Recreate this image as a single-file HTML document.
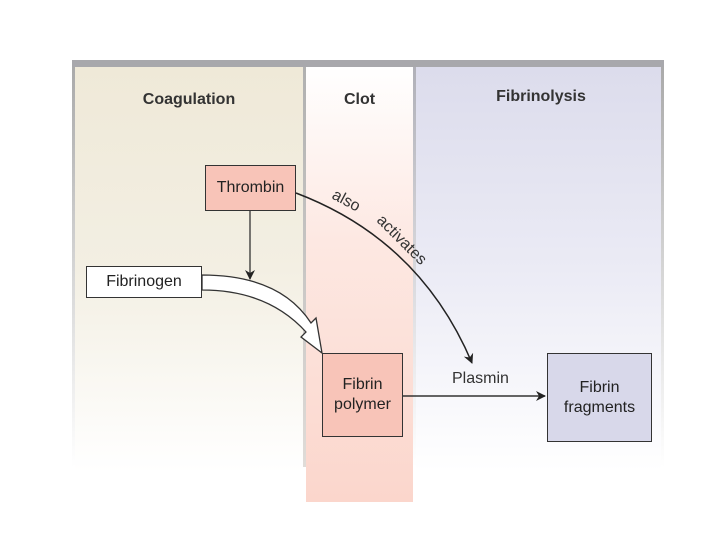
<!DOCTYPE html>
<html><head><style>
body{margin:0;width:720px;height:540px;background:#fff;position:relative;overflow:hidden;font-family:"Liberation Sans",sans-serif}
.a{position:absolute}
.box{position:absolute;border:1.5px solid #333;box-sizing:border-box;display:flex;align-items:center;justify-content:center;text-align:center;font-size:16px;color:#222;line-height:20px}
</style></head><body>
<div class="a" style="left:72px;top:60px;width:592px;height:7px;background:#a8a8ac"></div>
<div class="a" style="left:72px;top:67px;width:3px;height:400px;background:linear-gradient(#aaa,#fff)"></div>
<div class="a" style="left:75px;top:67px;width:228px;height:405px;background:linear-gradient(#efe9d8 0%,#f3efe3 50%,#fff 100%)"></div>
<div class="a" style="left:303px;top:67px;width:3px;height:400px;background:linear-gradient(#b0b0b0,#e0dcd8)"></div>
<div class="a" style="left:306px;top:67px;width:107px;height:435px;background:linear-gradient(#fff 0%,#fde8e2 40%,#fbd6cc 100%)"></div>
<div class="a" style="left:413px;top:67px;width:3px;height:400px;background:linear-gradient(#b0b0b8,#fff)"></div>
<div class="a" style="left:416px;top:67px;width:245px;height:405px;background:linear-gradient(#dcdcec 0%,#ebebf5 50%,#fff 100%)"></div>
<div class="a" style="left:661px;top:67px;width:3px;height:400px;background:linear-gradient(#aaa,#fff)"></div>
<div class="a" style="left:75px;top:91px;width:228px;text-align:center;font-weight:bold;font-size:16px;color:#333">Coagulation</div>
<div class="a" style="left:306px;top:91px;width:107px;text-align:center;font-weight:bold;font-size:16px;color:#333">Clot</div>
<div class="a" style="left:416px;top:88px;width:250px;text-align:center;font-weight:bold;font-size:16px;color:#333">Fibrinolysis</div>
<div class="box" style="left:205px;top:165px;width:91px;height:46px;background:#f8c4b8">Thrombin</div>
<div class="box" style="left:86px;top:266px;width:116px;height:32px;background:#fff">Fibrinogen</div>
<div class="box" style="left:322px;top:353px;width:81px;height:84px;background:#f8c4b8">Fibrin<br>polymer</div>
<div class="box" style="left:547px;top:353px;width:105px;height:89px;background:#d8d8ea">Fibrin<br>fragments</div>
<div class="a" style="left:452px;top:370px;font-size:16px;color:#333">Plasmin</div>
<svg class="a" style="left:0;top:0" width="720" height="540">
<defs><marker id="m" markerWidth="10" markerHeight="10" refX="9" refY="5" orient="auto" markerUnits="userSpaceOnUse"><path d="M0,0 L10,5 L0,10 L3,5z" fill="#222"/></marker></defs>
<line x1="250" y1="211" x2="250" y2="279" stroke="#333" stroke-width="1.3" marker-end="url(#m)"/>
<path d="M296,193 Q420,240 472,363" fill="none" stroke="#222" stroke-width="1.5" marker-end="url(#m)"/>
<line x1="403" y1="396" x2="545" y2="396" stroke="#333" stroke-width="1.5" marker-end="url(#m)"/>
<path d="M202,275 Q280,275 311,323 L316,318 L322,353 L301,337 L306,332 Q268,290 202,290 Z" fill="#fff" stroke="#333" stroke-width="1.3" stroke-linejoin="miter"/>
<text font-family="Liberation Sans" font-size="16" fill="#333" transform="translate(331,198) rotate(28)">also</text>
<text font-family="Liberation Sans" font-size="16" fill="#333" transform="translate(376,221) rotate(45)">activates</text>
</svg>
</body></html>
